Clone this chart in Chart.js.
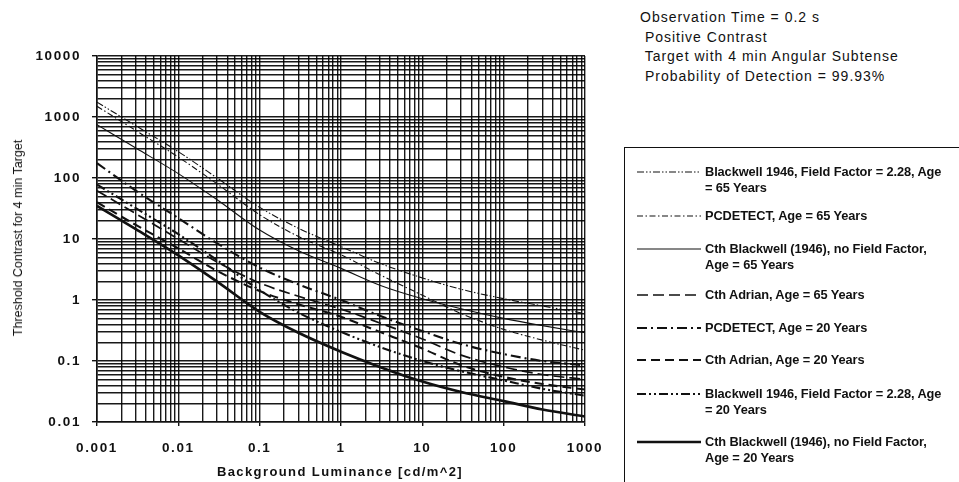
<!DOCTYPE html>
<html>
<head>
<meta charset="utf-8">
<script src="https://cdn.jsdelivr.net/npm/chart.js@4.4.1/dist/chart.umd.min.js"></script>
<style>
  body { margin: 0; background: #fff; width: 959px; height: 482px; overflow: hidden; position: relative; font-family: "Liberation Sans", Arial, sans-serif; color: #111; }
  #wrap { position: absolute; left: 0; top: 0; width: 640px; height: 482px; }
  #ytitle { position: absolute; left: 18px; top: 238px; transform: translate(-50%, -50%) rotate(-90deg); white-space: nowrap; font-size: 12.5px; }
  #xtitle { position: absolute; left: 340px; top: 471px; transform: translate(-50%, -50%); white-space: nowrap; font-size: 13px; font-weight: bold; letter-spacing: 1.4px; }
  #notes { position: absolute; left: 640px; top: 8px; font-size: 14px; letter-spacing: 1px; line-height: 19.7px; white-space: pre; }
  #legend { position: absolute; left: 624px; top: 147px; width: 340px; height: 345px; border: 1.5px solid #111; box-sizing: border-box; }
  .item { position: absolute; left: 12px; font-size: 12.8px; font-weight: bold; line-height: 15.5px; letter-spacing: -0.1px; }
  .item svg { position: absolute; left: 0; }
  .item span { position: absolute; left: 68px; top: 0; white-space: nowrap; }
</style>
</head>
<body>
<div id="wrap"><canvas id="chart"></canvas></div>
<div id="ytitle">Threshold Contrast for 4 min Target</div>
<div id="xtitle">Background Luminance [cd/m^2]</div>
<div id="notes">Observation Time = 0.2 s
 Positive Contrast
 Target with 4 min Angular Subtense
 Probability of Detection = 99.93%</div>
<div id="legend"></div>
<script>
// background luminance, cd/m^2
const luminance = [0.001, 0.003, 0.01, 0.03, 0.1, 0.3, 1, 3, 10, 30, 100, 300, 1000];

// threshold contrast
const bwFF65     = [1750, 720, 270, 100, 33, 15, 7.5, 4.0, 2.3, 1.5, 1.05, 0.8, 0.6];
const pcdetect65 = [1500, 600, 220, 80, 25, 11, 5.5, 2.6, 1.2, 0.6, 0.33, 0.22, 0.15];
const bw65       = [750, 310, 118, 44, 14, 6.4, 3.3, 1.75, 1.05, 0.72, 0.5, 0.38, 0.29];
const adrian65   = [62, 26, 10, 4.2, 1.9, 1.15, 0.71, 0.42, 0.23, 0.125, 0.08, 0.06, 0.05];
const pcdetect20 = [175, 62, 22, 8.5, 3.4, 1.8, 1.0, 0.55, 0.31, 0.19, 0.13, 0.1, 0.085];
const adrian20   = [40, 17, 7, 3.0, 1.4, 0.85, 0.53, 0.3, 0.16, 0.085, 0.055, 0.042, 0.034];
const bwFF20     = [78, 32, 12, 4.5, 1.45, 0.62, 0.3, 0.17, 0.1, 0.068, 0.048, 0.035, 0.027];
const bw20       = [35, 14.5, 5.4, 2.0, 0.64, 0.29, 0.142, 0.08, 0.046, 0.031, 0.022, 0.016, 0.0123];

const seriesLabels = [
  ['Blackwell 1946, Field Factor = 2.28, Age', '= 65 Years'],
  ['PCDETECT, Age = 65 Years'],
  ['Cth Blackwell (1946), no Field Factor,', 'Age = 65 Years'],
  ['Cth Adrian, Age = 65 Years'],
  ['PCDETECT, Age = 20 Years'],
  ['Cth Adrian, Age = 20 Years'],
  ['Blackwell 1946, Field Factor = 2.28, Age', '= 20 Years'],
  ['Cth Blackwell (1946), no Field Factor,', 'Age = 20 Years']
];

// axis ticks
const xDecades = [0.001, 0.01, 0.1, 1, 10, 100, 1000];
const xTickLabels = ['0.001', '0.01', '0.1', '1', '10', '100', '1000'];
const yDecades = [0.01, 0.1, 1, 10, 100, 1000, 10000];
const yTickLabels = ['0.01', '0.1', '1', '10', '100', '1000', '10000'];
const minorSteps = [2, 3, 4, 5, 6, 7, 8, 9];

// legend rows (top of first text line, inside the box)
const legendTops = [16, 60, 93, 139, 172, 204, 238, 286];

function toPoints(arr) {
  return luminance.map((x, i) => ({ x: x, y: arr[i] }));
}

function logTicks(decades) {
  const out = [];
  decades.forEach((d, i) => {
    out.push({ value: d, major: true });
    if (i < decades.length - 1) {
      minorSteps.forEach(m => out.push({ value: +(d * m).toPrecision(3), major: false }));
    }
  });
  return out;
}

const styles = [
  { width: 1.1, dash: [7, 2, 1.5, 2, 1.5, 2] },
  { width: 1.1, dash: [6, 2.5, 1.5, 2.5] },
  { width: 1.1, dash: [] },
  { width: 1.7, dash: [11, 5] },
  { width: 2.1, dash: [10, 4, 2, 4] },
  { width: 2.1, dash: [9, 5] },
  { width: 2.1, dash: [9, 3, 2, 3, 2, 3] },
  { width: 2.7, dash: [] }
];

const allSeries = [bwFF65, pcdetect65, bw65, adrian65, pcdetect20, adrian20, bwFF20, bw20];

const datasets = allSeries.map((s, i) => ({
  label: seriesLabels[i].join(' '),
  data: toPoints(s),
  borderColor: '#111',
  borderWidth: styles[i].width,
  borderDash: styles[i].dash,
  pointRadius: 0,
  fill: false,
  cubicInterpolationMode: 'monotone'
}));

const spacing = {
  id: 'spacing',
  beforeLayout(chart) { chart.ctx.letterSpacing = '1.6px'; },
  beforeDraw(chart) { chart.ctx.letterSpacing = '1.6px'; },
  afterDraw(chart) { chart.ctx.letterSpacing = '0px'; }
};

const gridColor = 'rgba(0,0,0,0.9)';

const chart = new Chart(document.getElementById('chart'), {
  type: 'line',
  data: { datasets: datasets },
  plugins: [spacing],
  options: {
    responsive: true,
    maintainAspectRatio: false,
    animation: false,
    layout: { padding: { top: 56, right: 55, left: 0, bottom: 0 } },
    plugins: { legend: { display: false }, tooltip: { enabled: false } },
    scales: {
      x: {
        type: 'logarithmic',
        min: 0.001,
        max: 1000,
        afterBuildTicks: scale => { scale.ticks = logTicks(xDecades); },
        afterFit: scale => { scale.height = 60; },
        grid: {
          color: gridColor,
          lineWidth: 1.4,
          tickLength: 4,
          tickColor: ctx => (ctx.tick && ctx.tick.major ? '#111' : 'rgba(0,0,0,0)')
        },
        border: { color: '#111', width: 1.6 },
        ticks: {
          autoSkip: false,
          maxRotation: 0,
          padding: 14,
          color: '#111',
          font: { family: '"Liberation Sans", Arial', size: 13.5, weight: 'bold' },
          callback: v => {
            const i = xDecades.indexOf(v);
            return i >= 0 ? xTickLabels[i] : '';
          }
        }
      },
      y: {
        type: 'logarithmic',
        min: 0.01,
        max: 10000,
        afterBuildTicks: scale => { scale.ticks = logTicks(yDecades); },
        afterFit: scale => { scale.width = 97; },
        grid: {
          color: gridColor,
          lineWidth: 1.4,
          tickLength: 5,
          tickColor: ctx => (ctx.tick && ctx.tick.major ? '#111' : 'rgba(0,0,0,0)')
        },
        border: { color: '#111', width: 1.6 },
        ticks: {
          autoSkip: false,
          padding: 11,
          color: '#111',
          font: { family: '"Liberation Sans", Arial', size: 13.5, weight: 'bold' },
          callback: v => {
            const i = yDecades.indexOf(v);
            return i >= 0 ? yTickLabels[i] : '';
          }
        }
      }
    }
  }
});

// html legend built from the chart's datasets
const legendBox = document.getElementById('legend');
chart.data.datasets.forEach((ds, i) => {
  const item = document.createElement('div');
  item.className = 'item';
  item.style.top = legendTops[i] + 'px';
  const svg = document.createElementNS('http://www.w3.org/2000/svg', 'svg');
  svg.setAttribute('width', '64');
  svg.setAttribute('height', '10');
  svg.style.top = '3px';
  const line = document.createElementNS('http://www.w3.org/2000/svg', 'line');
  line.setAttribute('x1', '0');
  line.setAttribute('x2', '64');
  line.setAttribute('y1', '5');
  line.setAttribute('y2', '5');
  line.setAttribute('stroke', ds.borderColor);
  line.setAttribute('stroke-width', ds.borderWidth);
  if (ds.borderDash.length) line.setAttribute('stroke-dasharray', ds.borderDash.join(' '));
  svg.appendChild(line);
  item.appendChild(svg);
  const text = document.createElement('span');
  text.innerHTML = seriesLabels[i].join('<br>');
  item.appendChild(text);
  legendBox.appendChild(item);
});
</script>
</body>
</html>
